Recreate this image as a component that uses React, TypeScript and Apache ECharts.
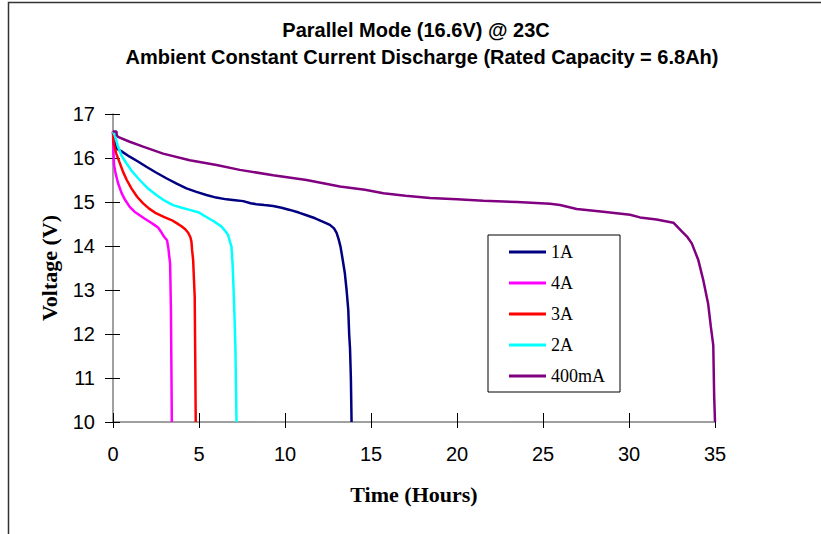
import React, { useEffect, useRef } from "react";
import * as echarts from "echarts";

const titleLines = [
  "Parallel Mode (16.6V) @ 23C",
  "Ambient Constant Current Discharge (Rated Capacity = 6.8Ah)",
];
const xAxisName = "Time (Hours)";
const yAxisName = "Voltage (V)";
const seriesNames = ["1A", "4A", "3A", "2A", "400mA"];
const seriesColors = ["#000080", "#FF00FF", "#FF0000", "#00FFFF", "#800080"];

const data1A: [number, number][] = [
  [0, 16.6], [0.04, 16.45], [0.19, 16.22], [0.5, 16.15], [0.97, 16.03], [1.45, 15.92], [1.94, 15.8],
  [2.5, 15.67], [3.1, 15.54], [3.7, 15.42], [4.27, 15.31], [4.85, 15.23], [5.43, 15.16], [6.0, 15.1],
  [6.6, 15.06], [7.1, 15.04], [7.57, 15.02], [8.0, 14.97], [8.34, 14.95], [8.8, 14.93], [9.31, 14.91],
  [9.8, 14.87], [10.28, 14.82], [10.8, 14.76], [11.25, 14.7], [11.75, 14.63], [12.22, 14.55],
  [12.61, 14.48], [12.85, 14.4], [13.0, 14.3], [13.12, 14.15], [13.23, 13.98], [13.35, 13.7],
  [13.48, 13.38], [13.58, 13.0], [13.68, 12.54], [13.73, 12.0], [13.78, 11.67], [13.83, 11.0], [13.87, 10.0],
];
const data4A: [number, number][] = [
  [0, 16.6], [0.03, 16.1], [0.06, 15.85], [0.15, 15.65], [0.3, 15.42], [0.5, 15.2], [0.7, 15.05],
  [0.97, 14.89], [1.25, 14.78], [1.55, 14.7], [1.85, 14.62], [2.13, 14.55], [2.4, 14.48], [2.62, 14.42],
  [2.8, 14.32], [2.95, 14.22], [3.14, 14.13], [3.22, 13.95], [3.26, 13.8], [3.32, 13.6], [3.34, 13.19],
  [3.37, 12.5], [3.4, 11.0], [3.42, 10.0],
];
const data3A: [number, number][] = [
  [0, 16.6], [0.04, 16.33], [0.19, 16.1], [0.38, 15.9], [0.58, 15.69], [0.8, 15.5], [1.07, 15.31],
  [1.4, 15.12], [1.75, 14.97], [2.1, 14.85], [2.52, 14.74], [2.95, 14.66], [3.4, 14.59], [3.7, 14.52],
  [3.98, 14.45], [4.2, 14.38], [4.37, 14.3], [4.5, 14.2], [4.56, 14.1], [4.6, 13.9], [4.66, 13.68],
  [4.7, 13.3], [4.75, 12.85], [4.78, 11.5], [4.81, 10.0],
];
const data2A: [number, number][] = [
  [0, 16.6], [0.1, 16.52], [0.29, 16.26], [0.5, 16.05], [0.78, 15.88], [1.1, 15.7], [1.55, 15.5],
  [2.0, 15.32], [2.52, 15.16], [3.0, 15.03], [3.49, 14.93], [4.0, 14.87], [4.46, 14.82], [5.0, 14.76],
  [5.43, 14.66], [5.9, 14.55], [6.31, 14.44], [6.55, 14.33], [6.69, 14.25], [6.8, 14.1], [6.89, 13.98],
  [6.95, 13.6], [7.02, 12.92], [7.08, 12.2], [7.12, 11.63], [7.15, 10.8], [7.18, 10.0],
];
const data400mA: [number, number][] = [
  [0, 16.6], [0.2, 16.6], [0.22, 16.52], [0.29, 16.48], [0.97, 16.37], [1.75, 16.26], [2.91, 16.1],
  [4.46, 15.95], [6.02, 15.84], [7.37, 15.73], [9.31, 15.61], [11.25, 15.5], [13.19, 15.35],
  [14.65, 15.28], [15.72, 15.2], [17.0, 15.14], [18.43, 15.09], [20.0, 15.06], [21.53, 15.03],
  [23.5, 15.0], [25.41, 14.96], [25.99, 14.93], [26.96, 14.84], [28.5, 14.78], [30.06, 14.71],
  [30.64, 14.65], [31.6, 14.6], [32.58, 14.53], [33.07, 14.33], [33.4, 14.2], [33.65, 14.06],
  [34.03, 13.68], [34.32, 13.22], [34.6, 12.69], [34.76, 12.16], [34.9, 11.74], [34.95, 10.61], [35.0, 10.0],
];
const seriesData = [data1A, data4A, data3A, data2A, data400mA];

const xMin = 0, xMax = 35, xInterval = 5;
const yMin = 10, yMax = 17, yInterval = 1;

const SANS = '"Liberation Sans", Arial, sans-serif';
const SERIF = '"Liberation Serif", "Times New Roman", serif';

export default function App() {
  const ref = useRef<HTMLDivElement>(null);
  useEffect(() => {
    if (!ref.current) return;
    const chart = echarts.init(ref.current, null, { renderer: "svg" });
    const axisColor = "#808080";
    const option: any = {
      animation: false,
      backgroundColor: "#ffffff",
      grid: { left: 113, right: 106, top: 114, bottom: 112, containLabel: false },
      graphic: [
        {
          type: "rect",
          shape: { x: 8.5, y: 2.5, width: 900, height: 600 },
          style: { fill: "none", stroke: "#333", lineWidth: 1.5 },
          silent: true,
        },
        {
          type: "text",
          x: 416, y: 30,
          style: {
            text: titleLines[0], font: `bold 20px ${SANS}`, fill: "#000",
            textAlign: "center", textVerticalAlign: "middle",
          },
        },
        {
          type: "text",
          x: 422, y: 57,
          style: {
            text: titleLines[1], font: `bold 20px ${SANS}`, fill: "#000",
            textAlign: "center", textVerticalAlign: "middle",
          },
        },
      ],
      legend: {
        orient: "vertical",
        left: 488,
        top: 235,
        padding: [8, 15, 7, 21],
        borderColor: "#000",
        borderWidth: 1,
        itemWidth: 37,
        itemHeight: 3,
        itemGap: 13,
        icon: "rect",
        data: seriesNames,
        textStyle: { fontFamily: SERIF, fontSize: 18, color: "#000", lineHeight: 18 },
      },
      xAxis: [
        {
          type: "value",
          min: xMin, max: xMax, interval: xInterval,
          name: xAxisName,
          nameLocation: "middle",
          nameGap: 61,
          nameTextStyle: { fontFamily: SERIF, fontSize: 22, fontWeight: "bold", color: "#000" },
          axisLine: { show: true, onZero: false, lineStyle: { color: axisColor, width: 1.5 } },
          axisTick: { show: true, length: 6, lineStyle: { color: "#000" } },
          axisLabel: { fontFamily: SANS, fontSize: 20, color: "#000", margin: 22 },
          splitLine: { show: false },
        },
        {
          type: "value",
          min: xMin, max: xMax, interval: xInterval,
          position: "bottom",
          axisLine: { show: false },
          axisTick: { show: true, inside: true, length: 9, lineStyle: { color: "#000" } },
          axisLabel: { show: false },
          splitLine: { show: false },
        },
      ],
      yAxis: [
        {
          type: "value",
          min: yMin, max: yMax, interval: yInterval,
          name: yAxisName,
          nameLocation: "middle",
          nameGap: 53,
          nameTextStyle: { fontFamily: SERIF, fontSize: 22, fontWeight: "bold", color: "#000" },
          axisLine: { show: true, onZero: false, lineStyle: { color: axisColor, width: 1.5 } },
          axisTick: { show: true, length: 8, lineStyle: { color: "#000" } },
          axisLabel: { fontFamily: SANS, fontSize: 20, color: "#000", margin: 18 },
          splitLine: { show: false },
        },
        {
          type: "value",
          min: yMin, max: yMax, interval: yInterval,
          position: "left",
          axisLine: { show: false },
          axisTick: { show: true, inside: true, length: 7, lineStyle: { color: "#000" } },
          axisLabel: { show: false },
          splitLine: { show: false },
        },
      ],
      series: seriesNames.map((name, i) => ({
        name,
        type: "line",
        data: seriesData[i],
        showSymbol: false,
        symbol: "none",
        smooth: false,
        color: seriesColors[i],
        lineStyle: { color: seriesColors[i], width: 2.5 },
        itemStyle: { color: seriesColors[i] },
      })),
    };
    chart.setOption(option);
    return () => chart.dispose();
  }, []);
  return (
    <div
      ref={ref}
      style={{ position: "absolute", left: 0, top: 0, width: 821, height: 534 }}
    />
  );
}
